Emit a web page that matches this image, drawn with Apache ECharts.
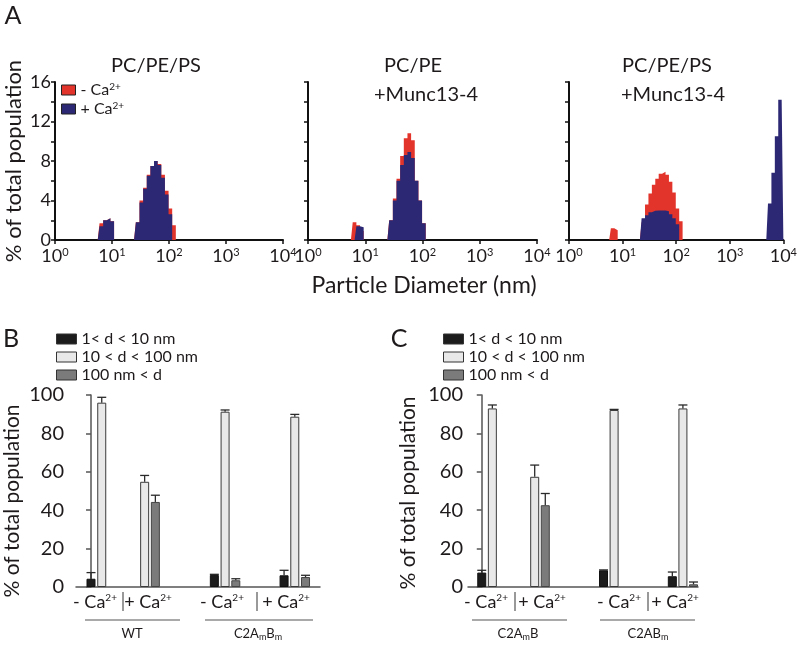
<!DOCTYPE html>
<html><head><meta charset="utf-8">
<script src="https://cdn.jsdelivr.net/npm/echarts@6/dist/echarts.min.js"></script>
<style>html,body{margin:0;padding:0;background:#fff}#c{width:800px;height:648px}</style>
</head><body><div id="c"></div>
<script>
// ---------- DATA ----------
// Panel A: size-distribution histograms (bin diameter in nm, % of total population)
const binsA1 = [5.615, 6.503, 7.531, 8.721, 10.10, 11.70, 24.36, 28.21, 32.67, 37.84, 43.82, 50.75, 58.77, 68.06, 78.82, 91.28, 105.7, 122.4, 141.8];
const a1NoCa = [0, 1.7, 2.0, 2.2, 1.9, 0, 0, 1.8, 4.0, 5.3, 6.6, 7.5, 8.0, 7.7, 6.6, 5.0, 3.2, 1.5, 0];
const a1Ca   = [0, 1.4, 2.0, 2.2, 1.9, 0, 0, 1.8, 3.8, 5.2, 6.5, 7.5, 8.0, 7.6, 6.3, 4.6, 2.6, 0, 0];

const binsA2 = [5.615, 6.503, 7.531, 8.721, 10.10, 24.36, 28.21, 32.67, 37.84, 43.82, 50.75, 58.77, 68.06, 78.82, 91.28, 105.7, 122.4];
const a2NoCa = [0, 1.8, 1.5, 0.9, 0, 0, 2.0, 4.2, 6.2, 8.5, 10.3, 10.8, 10.1, 6.0, 4.0, 1.7, 0];
const a2Ca   = [0, 0, 1.4, 1.3, 0, 0, 2.0, 4.0, 6.0, 7.6, 8.6, 8.9, 8.3, 6.0, 4.0, 1.7, 0];

const binsA3 = [5.615, 6.503, 7.531, 8.721, 21.04, 24.36, 28.21, 32.67, 37.84, 43.82, 50.75, 58.77, 68.06, 78.82, 91.28, 105.7, 122.4, 141.8, 4801, 5560, 6439, 7456, 8635, 10000];
const a3NoCa = [0, 1.2, 1.0, 0, 0, 1.8, 3.6, 4.7, 5.6, 6.2, 6.7, 6.9, 6.6, 5.9, 4.8, 3.2, 1.9, 0, 0, 0, 0, 0, 0, 0];
const a3Ca   = [0, 0, 0, 0, 0, 2.2, 2.5, 2.8, 2.95, 3.0, 3.0, 3.0, 2.9, 2.6, 2.2, 1.6, 0, 0, 0, 3.7, 6.8, 10.5, 14.2, 14.2];

const panelTitlesA = [['PC/PE/PS'], ['PC/PE', '+Munc13-4'], ['PC/PE/PS', '+Munc13-4']];
const sizeClasses = ['1< d < 10 nm', '10 < d < 100 nm', '100 nm < d'];

// Panels B and C: groups = [-Ca, +Ca, -Ca, +Ca]
const bSmall = [4.3, null, 6.3, 6.1];
const bMid   = [96.0, 54.8, 91.3, 88.7];
const bLarge = [null, 44.3, 3.5, 5.2];
const bSmallErr = [3.2, 0, 0.3, 2.6];
const bMidErr   = [2.8, 3.3, 0.9, 1.2];
const bLargeErr = [0, 3.5, 0.8, 0.9];

const cSmall = [7.5, null, 8.7, 5.6];
const cMid   = [93.0, 57.4, 92.2, 93.0];
const cLarge = [null, 42.6, null, 1.4];
const cSmallErr = [1.2, 0, 0.2, 2.2];
const cMidErr   = [1.8, 6.1, 0.3, 1.8];
const cLargeErr = [0, 6.1, 0, 1.2];

// ---------- LAYOUT ----------
const FONT = 'Lato';
const TXT = '#1e1a1b';
const RED = '#e3342b', BLUE = '#2d2874';
const slots = [[0, 2, 4], [8, 10, 12], [23, 25, 27], [36, 38, 40]]; // bar slot positions in groups

const gridsA = [
  {left: 55, top: 82, width: 228, height: 158},
  {left: 308, top: 82, width: 229, height: 158},
  {left: 569, top: 82, width: 226, height: 158}
];
const gridB = {left: 76, top: 395, width: 244, height: 192};
const gridC = {left: 468, top: 395, width: 230, height: 192};

const supRich = {s: {fontSize: 10, fontFamily: FONT, color: TXT, verticalAlign: 'top', lineHeight: 10}};

const xAxes = [], yAxes = [], series = [];
gridsA.forEach((g, i) => {
  xAxes.push({type: 'log', logBase: 10, gridIndex: i, min: 1, max: 10000,
    axisLine: {lineStyle: {color: '#111', width: 2}},
    axisTick: {show: true, length: 4, lineStyle: {color: '#111', width: 1.5}},
    minorTick: {show: false}, splitLine: {show: false},
    axisLabel: {fontSize: 18, fontFamily: FONT, color: TXT, margin: 7,
      formatter: v => '10{s|' + Math.round(Math.log10(v)) + '}',
      rich: {s: {fontSize: 11, fontFamily: FONT, color: TXT, verticalAlign: 'top', lineHeight: 11}}}
  });
  yAxes.push({type: 'value', gridIndex: i, min: 0, max: 16, interval: 2,
    axisLine: {show: true, lineStyle: {color: '#111', width: 2}},
    axisTick: {show: true, length: 4, lineStyle: {color: '#111', width: 1.5}},
    splitLine: {show: false},
    axisLabel: {show: i === 0, fontSize: 18, fontFamily: FONT, color: TXT, margin: 4,
      formatter: v => (v % 4 === 0 ? String(v) : '')}
  });
});

function hist(name, bins, vals, idx, color) {
  return {type: 'line', name, xAxisIndex: idx, yAxisIndex: idx, step: 'middle', symbol: 'none',
    data: bins.map((d, k) => [d, vals[k]]), color,
    lineStyle: {width: 0}, areaStyle: {color, opacity: 1}, silent: true, animation: false};
}
series.push(hist('-Ca', binsA1, a1NoCa, 0, RED), hist('+Ca', binsA1, a1Ca, 0, BLUE));
series.push(hist('-Ca', binsA2, a2NoCa, 1, RED), hist('+Ca', binsA2, a2Ca, 1, BLUE));
series.push(hist('-Ca', binsA3, a3NoCa, 2, RED), hist('+Ca', binsA3, a3Ca, 2, BLUE));

// Bar panels
const barStyles = [
  {color: '#1c1c1c', borderColor: '#111', borderWidth: 1},
  {color: '#e8e8e8', borderColor: '#3a3a3a', borderWidth: 1},
  {color: '#7b7b7b', borderColor: '#444', borderWidth: 1}
];
function barPanel(idx, xmin, xmax, labelMargin, vals, errs) {
  xAxes.push({type: 'value', gridIndex: idx, min: xmin, max: xmax,
    axisLine: {lineStyle: {color: '#555', width: 1.5}}, axisTick: {show: false},
    axisLabel: {show: false}, splitLine: {show: false}});
  yAxes.push({type: 'value', gridIndex: idx, min: 0, max: 100, interval: 20,
    axisLine: {show: true, lineStyle: {color: '#555', width: 1.5}},
    axisTick: {show: true, length: 5, lineStyle: {color: '#555', width: 1.5}},
    splitLine: {show: false},
    axisLabel: {fontSize: 20, fontFamily: FONT, color: TXT, margin: labelMargin}});
  const names = ['small', 'mid', 'large'];
  vals.forEach((arr, k) => {
    series.push({type: 'bar', name: names[k], xAxisIndex: idx, yAxisIndex: idx,
      barWidth: 9, barGap: '-100%', itemStyle: barStyles[k], animation: false,
      data: arr.map((v, gI) => [slots[gI][k], v]).filter(d => d[1] !== null)});
  });
  const errData = [];
  vals.forEach((arr, k) => arr.forEach((v, gI) => {
    if (v !== null && errs[k][gI] > 0) errData.push([slots[gI][k], v, errs[k][gI]]);
  }));
  series.push({type: 'custom', xAxisIndex: idx, yAxisIndex: idx, z: 5, silent: true, animation: false,
    data: errData,
    renderItem: (params, api) => {
      const x = api.value(0), m = api.value(1), e = api.value(2);
      const p0 = api.coord([x, m]), p1 = api.coord([x, m + e]);
      const st = {stroke: '#2a2a2a', lineWidth: 1.3};
      return {type: 'group', children: [
        {type: 'line', shape: {x1: p0[0], y1: p0[1], x2: p1[0], y2: p1[1]}, style: st},
        {type: 'line', shape: {x1: p1[0] - 4.5, y1: p1[1], x2: p1[0] + 4.5, y2: p1[1]}, style: st}
      ]};
    }});
}
barPanel(3, -2.8, 42.7, 12, [bSmall, bMid, bLarge], [bSmallErr, bMidErr, bLargeErr]);
barPanel(4, -2.6, 40.85, 5, [cSmall, cMid, cLarge], [cSmallErr, cMidErr, cLargeErr]);

// ---------- ANNOTATIONS ----------
const G = [];
function txt(x, y, text, size, opts) {
  G.push(Object.assign({type: 'text', x, y, silent: true,
    style: Object.assign({text, fontSize: size, fontFamily: FONT, fill: TXT, align: 'center', verticalAlign: 'middle'}, (opts && opts.style) || {})},
    opts && opts.rotation !== undefined ? {rotation: opts.rotation} : {}));
}
function line(x1, y1, x2, y2, w, c) {
  G.push({type: 'line', silent: true, shape: {x1, y1, x2, y2}, style: {stroke: c || '#555', lineWidth: w || 1}});
}
txt(13, 16, 'A', 25);
txt(11, 339, 'B', 25);
txt(399, 339, 'C', 25);
// panel A titles
const titleX = [[156], [413, 426], [667, 673]];
const titleY = [66, 95];
panelTitlesA.forEach((t, i) => t.forEach((s, j) => txt(titleX[i][j], titleY[j], s, 20)));
txt(14, 161, '% of total population', 22, {rotation: Math.PI / 2});
txt(424, 286, 'Particle Diameter (nm)', 23);
txt(12, 501, '% of total population', 21, {rotation: Math.PI / 2});
txt(408, 493, '% of total population', 21, {rotation: Math.PI / 2});

const caRich = {rich: {s: {fontSize: 10, fontFamily: FONT, fill: TXT, verticalAlign: 'top', lineHeight: 10}}};
function caLabel(x, minus) {
  txt(x, 602, (minus ? '- Ca' : '+ Ca') + '{s|2+}', 18, {style: caRich});
}
// B
caLabel(95, true); caLabel(148, false); line(123, 592, 123, 611, 1.2);
caLabel(222, true); caLabel(286, false); line(257, 592, 257, 611, 1.2);
line(85, 620, 180, 620, 1.2); line(205, 620, 313, 620, 1.2);
const subRich = {rich: {m: {fontSize: 9, fontFamily: FONT, fill: TXT, verticalAlign: 'bottom', padding: [6, 0, 0, 0]}}};
txt(132, 634, 'WT', 13);
txt(258, 634, 'C2A{m|m}B{m|m}', 13, {style: subRich});
// C
caLabel(486, true); caLabel(542, false); line(515, 592, 515, 611, 1.2);
caLabel(619, true); caLabel(675, false); line(648, 592, 648, 611, 1.2);
line(472, 620, 567, 620, 1.2); line(600, 620, 695, 620, 1.2);
txt(518, 634, 'C2A{m|m}B', 13, {style: subRich});
txt(648, 634, 'C2AB{m|m}', 13, {style: subRich});

const legendTextA = {fontSize: 16, fontFamily: FONT, color: TXT, lineHeight: 16, rich: supRich};
const legendTextBC = {fontSize: 16, fontFamily: FONT, color: TXT, lineHeight: 16};
const legendBC = (left) => ({data: ['small', 'mid', 'large'], left, top: 331, padding: 0, orient: 'vertical', icon: 'rect',
  itemWidth: 20, itemHeight: 10, itemGap: 2, selectedMode: false, itemStyle: {borderColor: '#333', borderWidth: 1},
  formatter: n => sizeClasses[['small', 'mid', 'large'].indexOf(n)], textStyle: legendTextBC});
const option = {
  backgroundColor: '#fff',
  animation: false,
  grid: [...gridsA, gridB, gridC],
  xAxis: xAxes, yAxis: yAxes, series,
  legend: [
    {data: ['-Ca', '+Ca'], left: 61, top: 82, padding: 0, orient: 'vertical', icon: 'rect', itemWidth: 14, itemHeight: 10, itemGap: 3,
      selectedMode: false, itemStyle: {borderColor: '#222', borderWidth: 1},
      formatter: n => (n === '-Ca' ? '- Ca{s|2+}' : '+ Ca{s|2+}'), textStyle: legendTextA},
    legendBC(56), legendBC(443)
  ],
  graphic: G
};
const chart = echarts.init(document.getElementById('c'), null, {renderer: 'canvas'});
chart.setOption(option);
</script></body></html>
